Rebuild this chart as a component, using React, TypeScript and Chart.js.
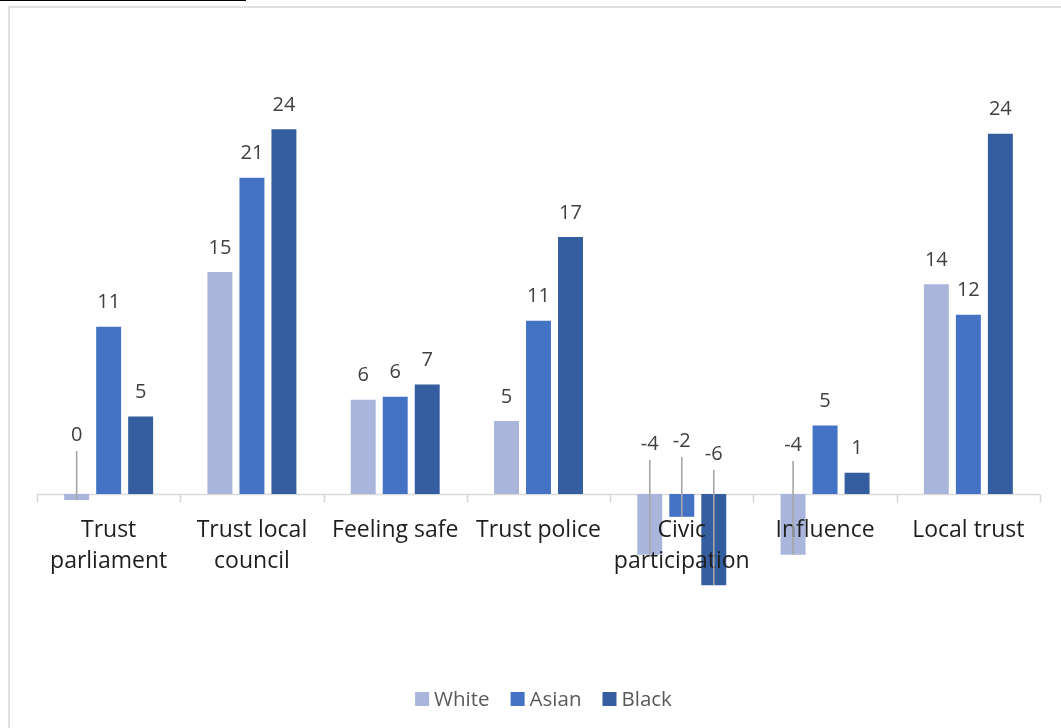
import React, { useEffect, useRef } from "react";
import { Chart, registerables } from "chart.js";

Chart.register(...registerables);

// Category labels (one entry per line of the wrapped label)
const categories: string[][] = [
  ["Trust", "parliament"],
  ["Trust local", "council"],
  ["Feeling safe"],
  ["Trust police"],
  ["Civic", "participation"],
  ["Influence"],
  ["Local trust"],
];

const seriesNames = ["White", "Asian", "Black"];
const whiteValues = [-0.4, 14.6, 6.2, 4.8, -4.0, -4.0, 13.8];
const asianValues = [11.0, 20.8, 6.4, 11.4, -1.5, 4.5, 11.8];
const blackValues = [5.1, 24.0, 7.2, 16.9, -6.0, 1.4, 23.7];
const seriesColors = ["#A9B5DA", "#4472C4", "#355EA0"];

// Value axis range (axis itself is hidden)
const yMin = -10;
const yMax = 30;

const FONT = "'Open Sans', 'Noto Sans', sans-serif";

// Labels rounded half away from zero, like a spreadsheet number format "0"
function formatLabel(v: number): string {
  const r = Math.sign(v) * Math.round(Math.abs(v));
  return String(r === 0 ? 0 : r);
}

// Labels for non-positive bars sit above the axis with a leader line.
// Key: "dataset-index", value: label baseline height above the zero line.
const leaderLift: Record<string, number> = {
  "0-0": 53,
  "0-4": 44,
  "1-4": 47,
  "2-4": 34,
  "0-5": 43,
};

const axisPlugin = {
  id: "categoryAxisAtZero",
  beforeDatasetsDraw(chart: any) {
    const { ctx, chartArea, scales } = chart;
    const x = scales.x;
    const zeroY = Math.round(scales.y.getPixelForValue(0)) + 0.5;
    const n = chart.data.labels.length;
    ctx.save();
    ctx.strokeStyle = "#D9D9D9";
    ctx.lineWidth = 1.6;
    ctx.beginPath();
    ctx.moveTo(chartArea.left, zeroY);
    ctx.lineTo(chartArea.right, zeroY);
    for (let i = 0; i <= n; i++) {
      const bx = Math.round(x.getPixelForValue(i - 0.5)) + 0.5;
      ctx.moveTo(bx, zeroY);
      ctx.lineTo(bx, zeroY + 8);
    }
    ctx.stroke();
    ctx.restore();
  },
  afterDatasetsDraw(chart: any) {
    const { ctx, scales } = chart;
    const x = scales.x;
    const zeroY = scales.y.getPixelForValue(0);
    ctx.save();
    // category labels on the zero line
    ctx.font = `23px ${FONT}`;
    ctx.fillStyle = "#1E1E1E";
    ctx.textAlign = "center";
    ctx.textBaseline = "alphabetic";
    (chart.data.labels as string[][]).forEach((lines, i) => {
      const cx = x.getPixelForValue(i);
      lines.forEach((line, j) => {
        ctx.fillText(line, cx, zeroY + 43 + j * 31);
      });
    });

    // data labels
    ctx.font = `20px ${FONT}`;
    ctx.fillStyle = "#404040";
    chart.data.datasets.forEach((ds: any, di: number) => {
      const meta = chart.getDatasetMeta(di);
      meta.data.forEach((bar: any, i: number) => {
        const v = ds.data[i] as number;
        const text = formatLabel(v);
        const lift = leaderLift[`${di}-${i}`];
        if (lift !== undefined) {
          const base = zeroY - lift;
          ctx.strokeStyle = "#A6A6A6";
          ctx.lineWidth = 1.6;
          ctx.beginPath();
          ctx.moveTo(bar.x, base + 10);
          ctx.lineTo(bar.x, bar.y);
          ctx.stroke();
          ctx.fillText(text, bar.x, base);
        } else {
          ctx.fillText(text, bar.x, bar.y - 18.5);
        }
      });
    });
    ctx.restore();
  },
  afterDraw(chart: any) {
    // legend centred under the plot
    const { ctx } = chart;
    ctx.save();
    ctx.font = `20.5px ${FONT}`;
    ctx.textBaseline = "middle";
    ctx.textAlign = "left";
    const box = 14;
    const gapText = 5;
    const gapItem = 21;
    const widths = chart.data.datasets.map(
      (ds: any) => box + gapText + ctx.measureText(ds.label).width
    );
    const total =
      widths.reduce((a: number, b: number) => a + b, 0) + gapItem * (widths.length - 1);
    const cy = 699;
    let cx = 543.5 - total / 2;
    chart.data.datasets.forEach((ds: any, i: number) => {
      ctx.fillStyle = ds.backgroundColor;
      ctx.fillRect(cx, cy - box / 2, box, box);
      ctx.fillStyle = "#595959";
      ctx.fillText(ds.label, cx + box + gapText, cy + 1);
      cx += widths[i] + gapItem;
    });
    ctx.restore();
  },
};

export default function App() {
  const canvasRef = useRef<HTMLCanvasElement | null>(null);

  useEffect(() => {
    const canvas = canvasRef.current;
    if (!canvas) return;
    const seriesValues = [whiteValues, asianValues, blackValues];
    const chart = new Chart(canvas, {
      type: "bar",
      data: {
        labels: categories,
        datasets: seriesNames.map((name, i) => ({
          label: name,
          data: seriesValues[i],
          backgroundColor: seriesColors[i],
          borderWidth: 0,
          categoryPercentage: 0.67,
          barPercentage: 0.78,
        })),
      },
      options: {
        responsive: false,
        animation: false,
        layout: { padding: { left: 37, right: 21, top: 38, bottom: 82 } },
        plugins: {
          legend: { display: false },
          tooltip: { enabled: false },
        },
        scales: {
          x: { display: false, grid: { display: false } },
          y: { display: false, min: yMin, max: yMax, grid: { display: false } },
        },
      },
      plugins: [axisPlugin],
    });
    return () => chart.destroy();
  }, []);

  return (
    <div
      style={{
        position: "fixed",
        left: 0,
        top: 0,
        width: 1061,
        height: 728,
        background: "#fff",
        overflow: "hidden",
      }}
    >
      <div
        style={{
          position: "absolute",
          left: 0,
          top: 0,
          width: 246,
          height: 1,
          background: "#000",
        }}
      />
      <div
        style={{
          position: "absolute",
          left: 8,
          top: 6,
          width: 1200,
          height: 900,
          borderLeft: "2px solid #E0E0E0",
          borderTop: "2px solid #E0E0E0",
        }}
      />
      <canvas
        ref={canvasRef}
        width={1061}
        height={728}
        style={{ position: "absolute", left: 0, top: 0, width: 1061, height: 728 }}
      />
    </div>
  );
}
